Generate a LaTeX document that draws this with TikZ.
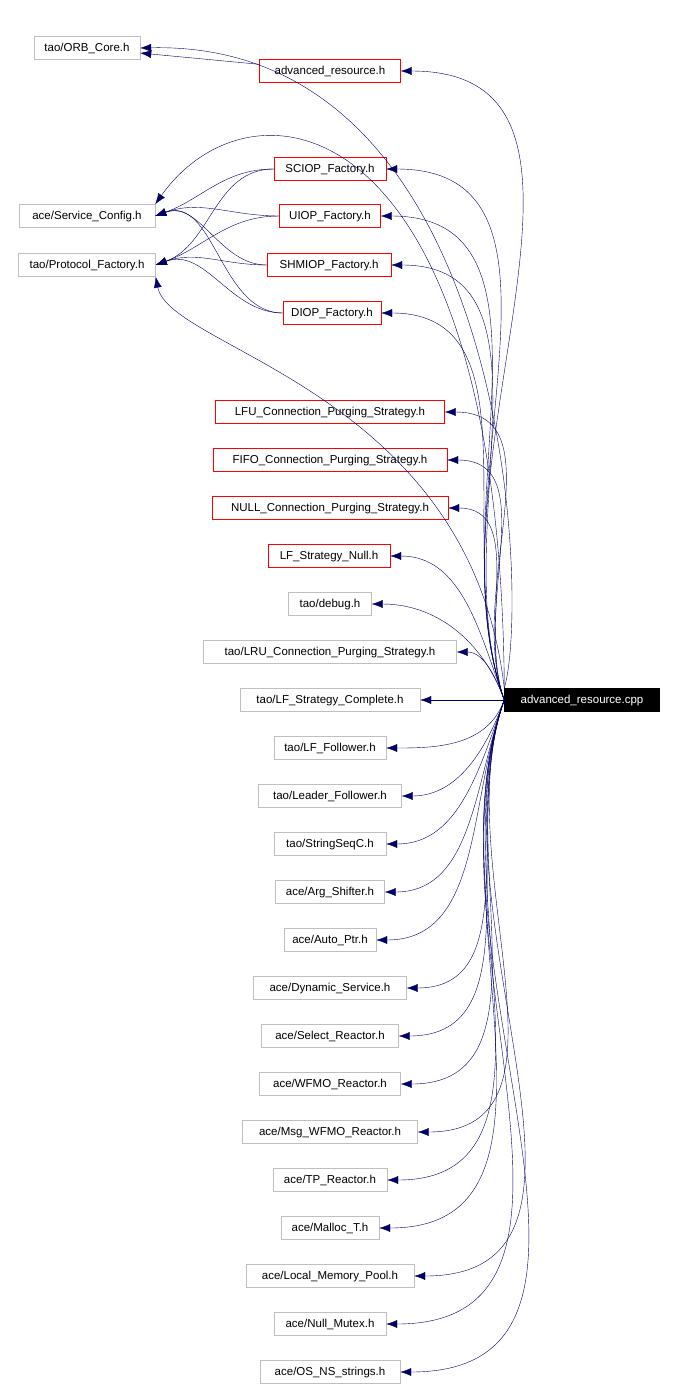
\documentclass[tikz,border=0pt]{standalone}
\usepackage{fontspec}
\setmainfont{Liberation Sans}
\begin{document}
\begin{tikzpicture}[x=1pt,y=-1pt,
    hdr/.style={draw=black!25,fill=white,inner sep=0pt,minimum height=23pt,text depth=2pt,font=\fontsize{11.5}{13}\selectfont},
    redhdr/.style={hdr,draw=red},
    dep/.style={draw=blue!40!black,-{Latex[length=11pt,width=8pt]}}]
\usetikzlibrary{arrows.meta}
    \useasboundingbox (0,0) rectangle (678,1390);

    \node[hdr,minimum width=106pt] (orb) at (87,48) {tao/ORB\_Core.h};
    \node[hdr,minimum width=136pt] (svc) at (87,216) {ace/Service\_Config.h};
    \node[hdr,minimum width=137pt] (pf)  at (87,265) {tao/Protocol\_Factory.h};
    \node[redhdr,minimum width=141pt] (ares) at (330,71) {advanced\_resource.h};
    \node[redhdr,minimum width=112pt] (sciop) at (330,169) {SCIOP\_Factory.h};
    \node[redhdr,minimum width=101pt] (uiop) at (330,216) {UIOP\_Factory.h};
    \node[redhdr,minimum width=124pt] (shmiop) at (329,265) {SHMIOP\_Factory.h};
    \node[redhdr,minimum width=98pt] (diop) at (332,313) {DIOP\_Factory.h};
    \node[redhdr,minimum width=229pt] (lfu) at (330,412) {LFU\_Connection\_Purging\_Strategy.h};
    \node[redhdr,minimum width=234pt] (fifo) at (330,460) {FIFO\_Connection\_Purging\_Strategy.h};
    \node[redhdr,minimum width=236pt] (null) at (330,508) {NULL\_Connection\_Purging\_Strategy.h};
    \node[redhdr,minimum width=122pt] (lfnull) at (329,556) {LF\_Strategy\_Null.h};
    \node[hdr,minimum width=83pt] (debug) at (330,604) {tao/debug.h};
    \node[hdr,minimum width=253pt] (lru) at (330,652) {tao/LRU\_Connection\_Purging\_Strategy.h};
    \node[hdr,minimum width=180pt] (lfc) at (330,700) {tao/LF\_Strategy\_Complete.h};
    \node[draw,fill=black,text=white,inner sep=0pt,minimum height=23pt,text depth=2pt,minimum width=155pt,
          font=\fontsize{11.5}{13}\selectfont] (cpp) at (582,700) {advanced\_resource.cpp};

    % headers below the source file
    \foreach \name/\w/\txt [count=\i] in {
        lff/112/{tao/LF\_Follower.h}, ldf/143/{tao/Leader\_Follower.h},
        ssq/112/{tao/StringSeqC.h}, args/109/{ace/Arg\_Shifter.h},
        aptr/92/{ace/Auto\_Ptr.h}, dyn/153/{ace/Dynamic\_Service.h},
        sel/137/{ace/Select\_Reactor.h}, wfmo/141/{ace/WFMO\_Reactor.h},
        msgw/175/{ace/Msg\_WFMO\_Reactor.h}, tpr/114/{ace/TP\_Reactor.h},
        mal/98/{ace/Malloc\_T.h}, lmp/168/{ace/Local\_Memory\_Pool.h},
        nmx/112/{ace/Null\_Mutex.h}, nss/140/{ace/OS\_NS\_strings.h}}
    {
        \node[hdr,minimum width=\w pt] (\name) at (330,700+48*\i) {\txt};
        \draw[dep] (cpp.west) to[out=250,in=0] (\name.east);
    }

    \draw[dep] (ares) -- (orb);
    \foreach \f in {sciop,uiop,shmiop,diop}{
        \draw[dep] (\f.west) to[out=180,in=20] (svc.east);
        \draw[dep] (\f.west) to[out=180,in=20] (pf.east);
    }
    \draw[dep] (cpp.north west) .. controls (530,600) and (510,40) .. (orb.east);
    \draw[dep] (cpp.north west) .. controls (500,100) and (250,70) .. (svc.north east);
    \draw[dep] (cpp.north west) .. controls (470,390) and (170,350) .. (pf.south east);
    \foreach \n in {ares,sciop,uiop,shmiop,diop,lfu,fifo,null,lfnull,debug,lru}
        \draw[dep] (cpp.west) to[out=110,in=0] (\n.east);
    \draw[dep] (cpp) -- (lfc);
\end{tikzpicture}
\end{document}
